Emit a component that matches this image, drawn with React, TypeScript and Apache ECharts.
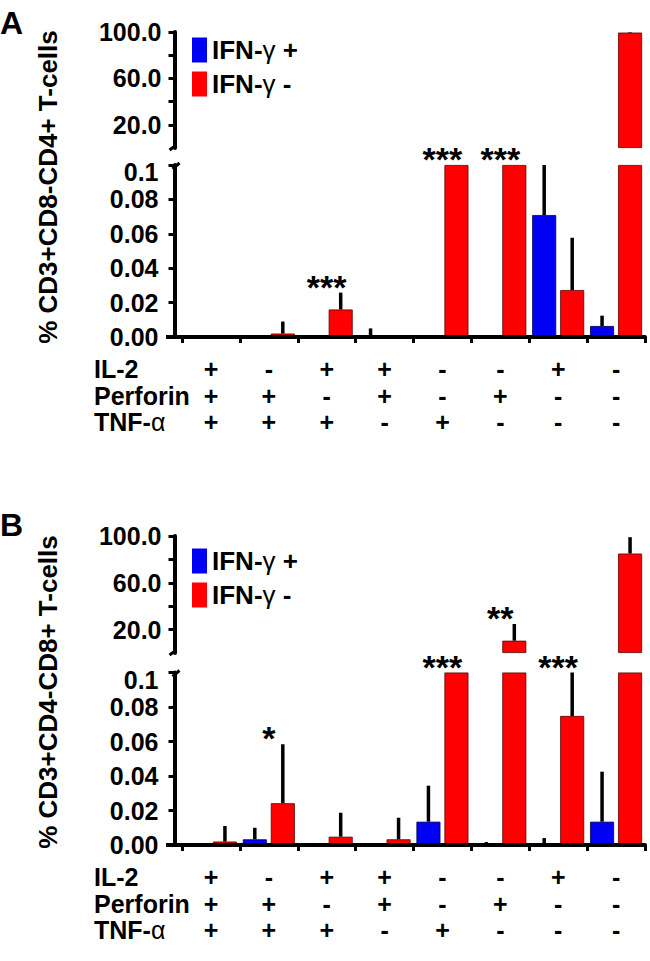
import React, { useEffect, useRef } from 'react';
import * as echarts from 'echarts';

// ---------- data ----------
const rowLabels = ['IL-2', 'Perforin', 'TNF-α'];
const il2 = ['+', '-', '+', '+', '-', '-', '+', '-'];
const perforin = ['+', '+', '-', '+', '-', '+', '-', '-'];
const tnf = ['+', '+', '+', '-', '+', '-', '-', '-'];
const conditionRows = [il2, perforin, tnf];
const seriesNames = ['IFN-γ +', 'IFN-γ -'];
const upperTicks = [20, 40, 60, 80, 100];
const upperLabels = [20, 60, 100];

// Panel A: % CD3+CD8-CD4+ T-cells
const aTitle = '% CD3+CD8-CD4+ T-cells';
const aPos = [0, 0, 0, 0.0005, 0, 0, 0.0709, 0.0064];
const aPosErr = [0, 0, 0, 0.0045, 0, 0, 0.045, 0.006];
const aNeg = [0, 0.002, 0.016, 0, 0.1, 0.1, 0.0273, 99.5];
const aNegErr = [0, 0.007, 0.0098, 0, 0, 0, 0.0304, 0.5];
const aStars = ['', '', '***', '', '***', '***', '', ''];

// Panel B: % CD3+CD4-CD8+ T-cells
const bTitle = '% CD3+CD4-CD8+ T-cells';
const bPos = [0, 0.0033, 0, 0, 0.0135, 0, 0, 0.0135];
const bPosErr = [0, 0.0067, 0.0012, 0, 0.0209, 0.0017, 0.004, 0.029];
const bNeg = [0.002, 0.0242, 0.0048, 0.0033, 0.1, 10.5, 0.0748, 85];
const bNegErr = [0.009, 0.0342, 0.0139, 0.0125, 0, 14.3, 0.04, 14];
const bStars = ['', '*', '', '', '***', '**', '***', ''];

// ---------- layout ----------
const FONT = '"Liberation Sans", Arial, Helvetica, sans-serif';
const GRID_LEFT = 182;
const GRID_WIDTH = 463;
const Y_OFFSET = 7.5;
const LOWER_MAX = 0.1;
const UPPER_MAX = 100;
const BAR_W = 24;
const BAR_GAP = 4;
const LABEL_LINE = 26.5;
const LABEL_MARGIN = 19;
const SIGN_SIZE = 25;
const COLORS = ['#0000f5', '#ff0000'];
const BORDERS = ['#00004a', '#5a0000'];

const layouts = [
  { letter: 'A', letterY: 23, titleY: 187, legendTop: 37, upperTop: 32, upperH: 116, lowerTop: 165, lowerH: 172 },
  { letter: 'B', letterY: 525, titleY: 692, legendTop: 548, upperTop: 536, upperH: 117, lowerTop: 672.5, lowerH: 172.5 },
];

const panels = [
  { title: aTitle, pos: aPos, posErr: aPosErr, neg: aNeg, negErr: aNegErr, stars: aStars },
  { title: bTitle, pos: bPos, posErr: bPosErr, neg: bNeg, negErr: bNegErr, stars: bStars },
];

const categories = il2.map((_, i) => `${il2[i]}${perforin[i]}${tnf[i]}`);

const axisLineStyle = { color: '#000', width: 4 };
const tickStyle = { color: '#000', width: 3 };
const labelFont = { color: '#000', fontSize: 25, fontWeight: 'bold', fontFamily: FONT };

function buildOption() {
  const grid: any[] = [];
  const xAxis: any[] = [];
  const yAxis: any[] = [];
  const series: any[] = [];
  const graphic: any[] = [];
  const legend: any[] = [];

  panels.forEach((p, pi) => {
    const L = layouts[pi];
    const gu = pi * 2;
    const gl = pi * 2 + 1;
    const axisX = GRID_LEFT - Y_OFFSET;
    const upperBottom = L.upperTop + L.upperH;
    const lowerBottom = L.lowerTop + L.lowerH;

    grid.push({ left: GRID_LEFT, width: GRID_WIDTH, top: L.upperTop, height: L.upperH });
    grid.push({ left: GRID_LEFT, width: GRID_WIDTH, top: L.lowerTop, height: L.lowerH });

    // x axes
    const xu = xAxis.length;
    xAxis.push({ type: 'category', gridIndex: gu, data: categories, show: false });
    const xl = xAxis.length;
    conditionRows.forEach((row, k) => {
      xAxis.push({
        type: 'category', gridIndex: gl, data: categories, position: 'bottom', offset: k * LABEL_LINE, z: 10,
        axisLine: { show: k === 0, lineStyle: axisLineStyle },
        axisTick: { show: k === 0, length: 6, lineStyle: tickStyle },
        axisLabel: {
          ...labelFont, fontSize: SIGN_SIZE, lineHeight: SIGN_SIZE, interval: 0,
          margin: LABEL_MARGIN + (LABEL_LINE - SIGN_SIZE) / 2,
          formatter: (_v: string, idx: number) => row[idx],
        },
      });
    });

    // y axes
    const yu = yAxis.length;
    yAxis.push({
      type: 'value', gridIndex: gu, min: 0, max: UPPER_MAX, interval: 20, offset: Y_OFFSET, z: 10,
      splitLine: { show: false },
      axisLine: { show: true, lineStyle: axisLineStyle },
      axisTick: { show: true, length: 6, lineStyle: tickStyle, customValues: upperTicks },
      axisLabel: {
        ...labelFont, margin: 13, customValues: upperLabels,
        formatter: (v: number) => (upperLabels.indexOf(v) >= 0 ? v.toFixed(1) : ''),
      },
    });
    const yl = yAxis.length;
    yAxis.push({
      type: 'value', gridIndex: gl, min: 0, max: LOWER_MAX, interval: 0.02, offset: Y_OFFSET, z: 10,
      splitLine: { show: false },
      axisLine: { show: true, lineStyle: axisLineStyle },
      axisTick: { show: true, length: 6, lineStyle: tickStyle },
      axisLabel: {
        ...labelFont, margin: 16,
        formatter: (v: number) => (v >= LOWER_MAX - 1e-9 ? '{t|0.1}' : v.toFixed(2)),
        rich: { t: { ...labelFont, padding: [14, 0, 0, 0] } },
      },
    });

    const vals = [p.pos, p.neg];
    const errs = [p.posErr, p.negErr];
    const barStyle = (s: number) => ({
      barWidth: BAR_W, barGap: `${(BAR_GAP / BAR_W) * 100}%`,
      itemStyle: { color: COLORS[s], borderColor: BORDERS[s], borderWidth: 0.8 },
    });

    vals.forEach((arr, s) => {
      series.push({
        type: 'bar', name: seriesNames[s], xAxisIndex: xu, yAxisIndex: yu,
        data: arr.map((v) => (v > LOWER_MAX ? v : '-')), ...barStyle(s),
      });
    });
    vals.forEach((arr, s) => {
      series.push({
        type: 'bar', name: seriesNames[s], xAxisIndex: xl, yAxisIndex: yl,
        data: arr.map((v) => Math.min(v, LOWER_MAX)), ...barStyle(s),
      });
    });

    const upErr: number[][] = [];
    const loErr: number[][] = [];
    vals.forEach((arr, s) => {
      arr.forEach((v, i) => {
        const e = errs[s][i];
        if (!(e > 0)) return;
        if (v > LOWER_MAX) upErr.push([i, v, Math.min(v + e, UPPER_MAX), s]);
        else loErr.push([i, v, Math.min(v + e, LOWER_MAX), s]);
      });
    });
    const errRender = (params: any, api: any) => {
      const i = api.value(0);
      const s = api.value(3);
      const p0 = api.coord([i, api.value(1)]);
      const p1 = api.coord([i, api.value(2)]);
      const dx = (s === 0 ? -1 : 1) * (BAR_W + BAR_GAP) / 2;
      return {
        type: 'line',
        shape: { x1: p0[0] + dx, y1: p0[1], x2: p1[0] + dx, y2: p1[1] },
        style: { stroke: '#000', lineWidth: 3.5 },
      };
    };
    series.push({ type: 'custom', xAxisIndex: xu, yAxisIndex: yu, z: 5, data: upErr, encode: { x: 0, y: [1, 2] }, renderItem: errRender });
    series.push({ type: 'custom', xAxisIndex: xl, yAxisIndex: yl, z: 5, data: loErr, encode: { x: 0, y: [1, 2] }, renderItem: errRender });

    const upStars: number[][] = [];
    const upStarText: string[] = [];
    const loStars: number[][] = [];
    const loStarText: string[] = [];
    p.stars.forEach((t, i) => {
      if (!t) return;
      const v = p.neg[i];
      const top = v + p.negErr[i];
      if (v > LOWER_MAX) { upStars.push([i, top]); upStarText.push(t); }
      else { loStars.push([i, Math.min(top, LOWER_MAX)]); loStarText.push(t); }
    });
    const starRender = (texts: string[]) => (params: any, api: any) => {
      const pt = api.coord([api.value(0), api.value(1)]);
      return {
        type: 'text', x: pt[0], y: pt[1] - 6,
        style: { text: texts[params.dataIndex], align: 'center', verticalAlign: 'middle', fill: '#000', fontSize: 34, fontWeight: 'bold', fontFamily: FONT },
      };
    };
    series.push({ type: 'custom', xAxisIndex: xu, yAxisIndex: yu, z: 6, clip: false, data: upStars, encode: { x: 0, y: 1 }, renderItem: starRender(upStarText) });
    series.push({ type: 'custom', xAxisIndex: xl, yAxisIndex: yl, z: 6, clip: false, data: loStars, encode: { x: 0, y: 1 }, renderItem: starRender(loStarText) });

    legend.push({
      data: seriesNames, left: 192, top: L.legendTop, orient: 'vertical', icon: 'rect',
      itemWidth: 15, itemHeight: 25, itemGap: 8, padding: 0, selectedMode: false,
      itemStyle: { borderWidth: 0 },
      formatter: (n: string) => n.replace('γ', '{g|γ}'),
      textStyle: {
        ...labelFont, fontSize: 26,
        rich: { g: { color: '#000', fontSize: 26, fontWeight: 'normal', fontFamily: FONT } },
      },
    });

    // panel letter
    graphic.push({
      type: 'text', x: 0, y: L.letterY,
      style: { text: L.letter, fill: '#000', fontSize: 32, fontWeight: 'bold', fontFamily: FONT, verticalAlign: 'middle' },
    });
    // y-axis title
    graphic.push({
      type: 'text', x: 48, y: L.titleY, rotation: Math.PI / 2,
      style: { text: p.title, fill: '#000', fontSize: 26, fontWeight: 'bold', fontFamily: FONT, align: 'center', verticalAlign: 'middle' },
    });
    // row labels of the condition table
    rowLabels.forEach((r, k) => {
      graphic.push({
        type: 'text', x: 94, y: lowerBottom + LABEL_MARGIN + LABEL_LINE * (k + 0.5),
        style: {
          text: r.replace('α', '{a|α}'), fill: '#000', fontSize: 25, fontWeight: 'bold', fontFamily: FONT,
          align: 'left', verticalAlign: 'middle', lineHeight: 25,
          rich: { a: { fill: '#000', fontSize: 25, fontWeight: 'normal', fontFamily: FONT, lineHeight: 25 } },
        },
      });
    });
    // x-axis line stub left of the grid
    graphic.push({
      type: 'line', z: 20,
      shape: { x1: axisX - 8.5, y1: lowerBottom, x2: GRID_LEFT, y2: lowerBottom },
      style: { stroke: '#000', lineWidth: 4 },
    });
    // axis break marks
    graphic.push({
      type: 'line', z: 20,
      shape: { x1: axisX - 5, y1: upperBottom + 2, x2: axisX + 2, y2: upperBottom - 3 },
      style: { stroke: '#000', lineWidth: 3 },
    });
    graphic.push({
      type: 'line', z: 20,
      shape: { x1: axisX - 2, y1: L.lowerTop + 4, x2: axisX + 5, y2: L.lowerTop - 2 },
      style: { stroke: '#000', lineWidth: 3 },
    });
  });

  return {
    animation: false,
    backgroundColor: '#fff',
    textStyle: { fontFamily: FONT },
    grid, xAxis, yAxis, series, legend, graphic,
  };
}

export default function App() {
  const ref = useRef<HTMLDivElement>(null);
  useEffect(() => {
    document.body.style.margin = '0';
    const chart = echarts.init(ref.current!, null, { renderer: 'svg' });
    chart.setOption(buildOption() as any);
    return () => chart.dispose();
  }, []);
  return <div ref={ref} style={{ width: 650, height: 961, background: '#fff' }} />;
}
